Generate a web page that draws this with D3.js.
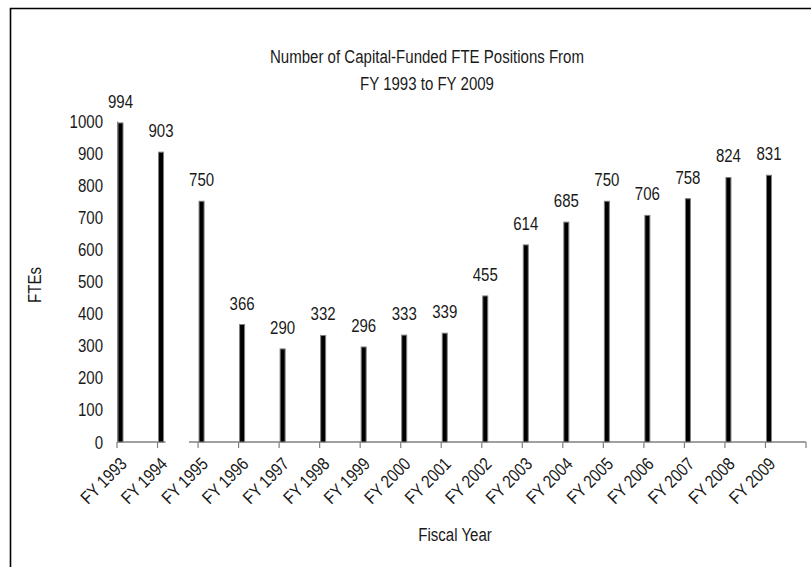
<!DOCTYPE html>
<html><head><meta charset="utf-8">
<script src="https://cdn.jsdelivr.net/npm/d3@7"></script>
<style>
body{margin:0;background:#fff;}
text{font-family:"Liberation Sans",Arial,sans-serif;fill:#1a1a1a;}
</style></head><body>
<svg id="c" width="811" height="567"></svg>
<script>
const categories = ["FY 1993","FY 1994","FY 1995","FY 1996","FY 1997","FY 1998","FY 1999","FY 2000","FY 2001","FY 2002","FY 2003","FY 2004","FY 2005","FY 2006","FY 2007","FY 2008","FY 2009"];
const values = [994,903,750,366,290,332,296,333,339,455,614,685,750,706,758,824,831];
const yTicks = [0,100,200,300,400,500,600,700,800,900,1000];
const titleLines = ["Number of Capital-Funded FTE Positions From","FY 1993 to FY 2009"];

const FS = 18, SX = 0.835;
const svg = d3.select("#c");
// chart border
svg.append("path").attr("d","M10.5,567 L10.5,8.5 L811,8.5").attr("fill","none").attr("stroke","#000").attr("stroke-width",1.6);

const x = d3.scaleBand().domain(categories).range([117,806]).padding(0);
const y = d3.scaleLinear().domain([0,1000]).range([442,121]);

function label(g, tx, ty, rot, anchor, txt){
  return g.append("text")
    .attr("transform",`translate(${tx},${ty}) rotate(${rot}) scale(${SX},1)`)
    .attr("text-anchor",anchor).attr("font-size",FS).text(txt);
}

// y axis
const yAxis = svg.append("g").attr("transform","translate(117,0)")
  .call(d3.axisLeft(y).tickValues(yTicks).tickSize(0).tickFormat(""));
yAxis.select(".domain").attr("stroke","#808080").attr("stroke-width",1);
const yl = svg.append("g");
yTicks.forEach(t => label(yl, 103, y(t)+6.5, 0, "end", d3.format("d")(t)));

// x axis
const xAxis = svg.append("g").attr("transform","translate(0,442)")
  .call(d3.axisBottom(x).tickSize(0).tickFormat(""));
xAxis.select(".domain").remove();
const tickPos = categories.map(c => x(c)).concat([x.range()[1]]);
xAxis.selectAll(".tk").data(tickPos).enter().append("line")
  .attr("x1",d=>d).attr("x2",d=>d).attr("y1",0).attr("y2",6)
  .attr("stroke","#808080").attr("stroke-width",1.2);
// broken baseline segments
const segs = [[x(categories[0]), x(categories[1]) + 8],[x(categories[2]) - 9, x.range()[1]]];
xAxis.selectAll(".seg").data(segs).enter().append("line")
  .attr("x1",d=>d[0]).attr("x2",d=>d[1]).attr("y1",0).attr("y2",0)
  .attr("stroke","#808080").attr("stroke-width",1.5);
// x labels
const xl = svg.append("g");
categories.forEach(c => label(xl, x(c)+11, 465, -45, "end", c));

// bars
svg.append("g").selectAll("rect").data(values).enter().append("rect")
  .attr("x",(d,i)=>x(categories[i])+1)
  .attr("y",d=>y(d))
  .attr("width",5)
  .attr("height",d=>y(0)-y(d))
  .attr("fill","#000").attr("stroke","#808080").attr("stroke-width",1);

// value labels
const vl = svg.append("g");
values.forEach((v,i) => label(vl, x(categories[i])+3.5, y(v)-15, 0, "middle", v));

// title
const tl = svg.append("g");
titleLines.forEach((t,i) => label(tl, 427, 63+i*27, 0, "middle", t));

// axis titles
label(svg, 455, 541, 0, "middle", "Fiscal Year");
label(svg, 41, 285, -90, "middle", "FTEs");
</script></body></html>
